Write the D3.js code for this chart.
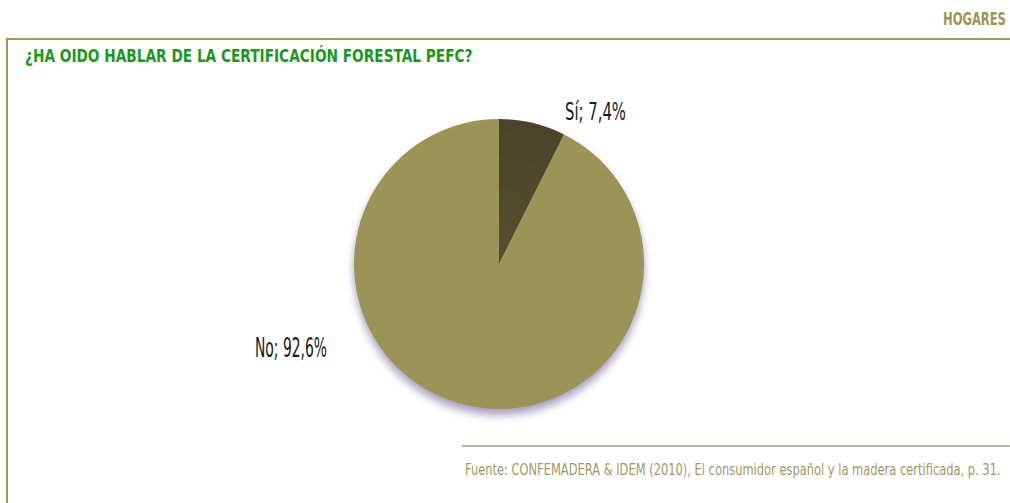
<!DOCTYPE html>
<html><head><meta charset="utf-8">
<script src="https://cdn.jsdelivr.net/npm/d3@7"></script>
<style>
html,body{margin:0;padding:0;background:#fff;}
svg{display:block;}
</style>
</head><body>
<svg id="chart" width="1010" height="503"></svg>
<script>
const categories = ["Sí", "No"];
const values = [7.4, 92.6];
const labelTexts = ["Sí; 7,4%", "No; 92,6%"];
const title = "¿HA OIDO HABLAR DE LA CERTIFICACIÓN FORESTAL PEFC?";
const section = "HOGARES";
const source = "Fuente: CONFEMADERA & IDEM (2010), El consumidor español y la madera certificada, p. 31.";

const W = 1010, H = 503;
const svg = d3.select("#chart");
const olive = "#a09a62";
const condensed = "'Liberation Sans Narrow','DejaVu Sans Condensed','Roboto Condensed',sans-serif";

// fit a text to a target width by horizontal scaling (x = left edge)
function fitText(parent, str, x, y, width, size, opts) {
  const g = parent.append("g");
  const t = g.append("text").text(str).attr("x", 0).attr("y", 0)
    .attr("font-family", condensed).attr("font-size", size)
    .attr("fill", opts.fill || "#000").attr("font-weight", opts.weight || "normal");
  const w = t.node().getComputedTextLength();
  const sx = w > 0 ? width / w : 1;
  g.attr("transform", `translate(${x},${y}) scale(${sx},1)`);
  return t;
}

// frame
svg.append("line").attr("x1", 6).attr("x2", W).attr("y1", 39).attr("y2", 39)
  .attr("stroke", olive).attr("stroke-width", 2);
svg.append("line").attr("x1", 7).attr("x2", 7).attr("y1", 38).attr("y2", H)
  .attr("stroke", olive).attr("stroke-width", 2);
svg.append("line").attr("x1", 462).attr("x2", W).attr("y1", 446).attr("y2", 446)
  .attr("stroke", "#a8a27a").attr("stroke-width", 1.5);

// texts
fitText(svg, section, 943, 25, 63, 17, {fill: "#9d945a", weight: "bold"});
fitText(svg, title, 25, 62, 448, 17, {fill: "#189a18", weight: "bold"});
fitText(svg, source, 465, 475, 536, 16, {fill: "#a09868"});

// pie
const cx = 499, cy = 264, r = 145;
const defs = svg.append("defs");
const f = defs.append("filter").attr("id", "sh").attr("x", "-20%").attr("y", "-20%")
  .attr("width", "140%").attr("height", "140%");
f.append("feGaussianBlur").attr("in", "SourceAlpha").attr("stdDeviation", 4).attr("result", "b");
f.append("feOffset").attr("in", "b").attr("dy", 6).attr("result", "o");
f.append("feFlood").attr("flood-color", "#8a80a8").attr("flood-opacity", 0.75);
f.append("feComposite").attr("in2", "o").attr("operator", "in").attr("result", "s");
const m = f.append("feMerge");
m.append("feMergeNode").attr("in", "s");
m.append("feMergeNode").attr("in", "SourceGraphic");

const rg2 = defs.append("radialGradient").attr("id", "gSi").attr("gradientUnits", "userSpaceOnUse")
  .attr("cx", 0).attr("cy", 0).attr("r", r);
rg2.append("stop").attr("offset", "0%").attr("stop-color", "#57512f");
rg2.append("stop").attr("offset", "100%").attr("stop-color", "#4a4429");

const colors = ["url(#gSi)", "#9c9357"];
const pie = d3.pie().sort(null).value(d => d)(values);
const arc = d3.arc().innerRadius(0).outerRadius(r);
const g = svg.append("g").attr("transform", `translate(${cx},${cy})`);
const gp = g.append("g").attr("filter", "url(#sh)");
gp.selectAll("path").data(pie).join("path")
  .attr("d", arc)
  .attr("fill", (d, i) => colors[i]);

// labels
fitText(svg, labelTexts[0], cx + 66, cy - r + 1, 61, 25, {fill: "#1a1a1a"});
fitText(svg, labelTexts[1], cx - r - 27 - 72, cy + 93, 72, 26, {fill: "#1a1a1a"});
</script>
</body></html>
